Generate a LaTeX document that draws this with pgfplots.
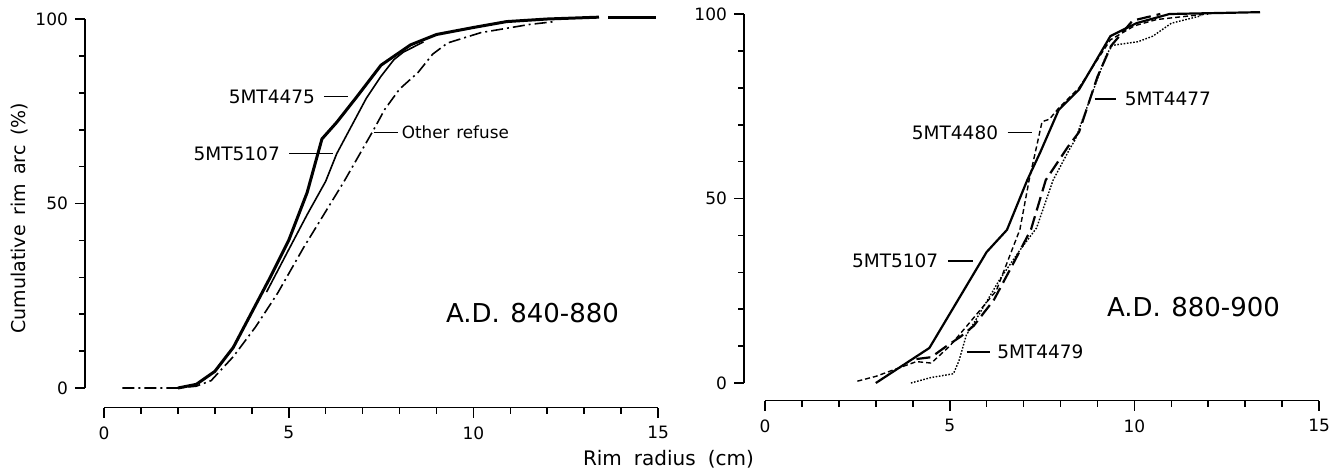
\documentclass[border=0pt]{standalone}
\usepackage{pgfplots}
\pgfplotsset{compat=1.18}
\usepackage{fontspec}
\setmainfont{DejaVu Sans}
\tikzset{lab/.style={font=\fontsize{9.25}{11}\selectfont}}
\begin{document}
\begin{tikzpicture}
\path[use as bounding box] (-52pt,-40pt) rectangle (616.5pt,194pt);
\pgfplotsset{
  panel/.style={
    anchor=south west,
    x=18.47pt, y=1.845pt,
    xmin=0,xmax=15,ymin=0,ymax=100,
    axis lines*=left,
    axis x line shift=9.75pt,
    axis y line shift=9.5pt,
    xtick={0,5,10,15}, ytick={0,50,100},
    minor xtick={1,2,3,4,6,7,8,9,11,12,13,14},
    minor ytick={10,20,30,40,60,70,80,90},
    tick align=outside,
    major tick length=5pt, minor tick length=3pt,
    every tick/.append style={black, line width=0.8pt},
    axis line style={line width=0.9pt},
    tick label style={font=\fontsize{8.5}{10}\selectfont},
    xticklabel style={yshift=-1pt},
    /pgf/number format/assume math mode=true,
    clip=false,
  },
}
% ---------------- left panel ----------------
\begin{axis}[panel, at={(0pt,0pt)}]
% 5MT4475
\addplot[line width=1.5pt] coordinates {(2.0,0)(2.5,1)(3.0,4.5)(3.5,11)(4.0,20.5)(4.5,30)(5.0,40)(5.5,53)(5.9,67.5)(6.3,72)(6.85,79)(7.5,87.5)(8.3,93)(9.0,95.8)(10.0,97.7)(10.9,99.3)(12,100)(13.4,100.5)};
\addplot[line width=1.5pt] coordinates {(13.65,100.3)(14.95,100.3)};
% 5MT5107
\addplot[line width=0.8pt] coordinates {(4.4,26)(5.0,37.5)(5.5,47)(6.0,56)(6.3,63.5)(7.1,78.5)(7.5,84.5)(7.85,89)(8.1,91)(8.65,93.8)};
% Other refuse
\addplot[line width=0.8pt, dash pattern=on 6pt off 2pt on 1pt off 2pt] coordinates {(0.5,0)(2.0,0)(2.5,0.5)(2.9,2)(3.5,8.5)(4.1,16.5)(4.7,25.7)(5.4,38)(6.5,56)(7.3,70)(7.6,75.5)(8.0,81)(8.5,85.5)(8.9,90.5)(9.3,93.5)(10.2,96.3)(11.5,98.5)(12.2,99.3)};
\node[lab, anchor=east] at (axis cs:5.9,79) {5MT4475};
\draw[line width=0.8pt] (axis cs:5.95,79) -- (axis cs:6.6,79);
\node[lab, anchor=east] at (axis cs:4.95,63.5) {5MT5107};
\draw[line width=0.8pt] (axis cs:5.02,63.5) -- (axis cs:6.2,63.5);
\draw[line width=0.8pt] (axis cs:7.3,69.2) -- (axis cs:7.95,69.2);
\node[font=\fontsize{8.4}{10}\selectfont, anchor=west, inner sep=1pt] at (axis cs:8.0,69.2) {Other\hspace{0.4em}refuse};
\node[font=\fontsize{13}{15}\selectfont] at (axis cs:11.6,20.4) {A.D.\hspace{0.4em}840-880};
\node[font=\fontsize{9.5}{11}\selectfont, rotate=90] at (axis cs:-2.28,46) {Cumulative\hspace{0.5em}rim\hspace{0.5em}arc\hspace{0.5em}(\%)};
\node[font=\fontsize{10}{12}\selectfont] at (axis cs:15.28,-19.4) {Rim\hspace{0.6em}radius\hspace{0.6em}(cm)};
\end{axis}
% ---------------- right panel ----------------
\begin{axis}[panel, at={(330.5pt,2.5pt)}, axis y line shift=10.5pt, axis x line shift=8.75pt]
% 5MT5107
\addplot[line width=1.1pt] coordinates {(3.0,0)(4.45,9.5)(6.0,35.5)(6.55,41.5)(7.1,55)(7.45,62.5)(7.95,74)(8.5,79.5)(9.35,94)(10.05,97.5)(10.95,100)(13.4,100.5)};
% 5MT4480
\addplot[line width=0.7pt, dash pattern=on 2.5pt off 1.5pt] coordinates {(2.5,0.5)(3.0,1.8)(3.6,4)(4.1,5.8)(4.5,5.4)(5.0,10)(5.45,15.3)(6.26,25)(6.9,41.6)(7.15,55)(7.35,64)(7.5,70.8)(7.7,71.5)(7.95,74.5)(8.5,80)(9.35,93)(10.0,96.8)(10.6,98.5)(11.5,99.5)(12.0,100)};
% 5MT4477
\addplot[line width=1.1pt, dash pattern=on 7pt off 3pt] coordinates {(4.1,6.5)(4.5,7)(4.9,9.9)(5.3,12.6)(5.65,15.5)(6.2,22.6)(6.7,32)(7.2,41.6)(7.6,55)(8.2,64)(8.5,68)(8.8,77)(9.0,83)(9.37,91.4)(9.95,98.2)(10.7,100)};
% 5MT4479
\addplot[line width=0.7pt, dash pattern=on 0.8pt off 0.8pt] coordinates {(3.95,0)(4.5,1.5)(5.1,2.5)(5.25,6)(5.45,13)(5.7,17)(6.35,28)(6.9,36)(7.35,42)(7.8,55)(8.24,63.3)(8.4,66)(8.8,77)(9.23,88.7)(9.4,91.5)(10.1,92.5)(10.5,94)(11.0,97.5)(11.8,99.5)};
\node[lab, anchor=east] at (axis cs:6.5,67.9) {5MT4480};
\draw[line width=0.8pt] (axis cs:6.57,67.9) -- (axis cs:7.24,67.9);
\draw[line width=0.8pt] (axis cs:8.92,76.9) -- (axis cs:9.51,76.9);
\node[lab, anchor=west] at (axis cs:9.55,76.9) {5MT4477};
\node[lab, anchor=east] at (axis cs:4.88,33) {5MT5107};
\draw[line width=0.8pt] (axis cs:4.95,33) -- (axis cs:5.62,33);
\draw[line width=0.8pt] (axis cs:5.46,8.4) -- (axis cs:6.08,8.4);
\node[lab, anchor=west] at (axis cs:6.1,8.4) {5MT4479};
\node[font=\fontsize{13}{15}\selectfont] at (axis cs:11.6,20.7) {A.D.\hspace{0.4em}880-900};
\end{axis}
\end{tikzpicture}
\end{document}
